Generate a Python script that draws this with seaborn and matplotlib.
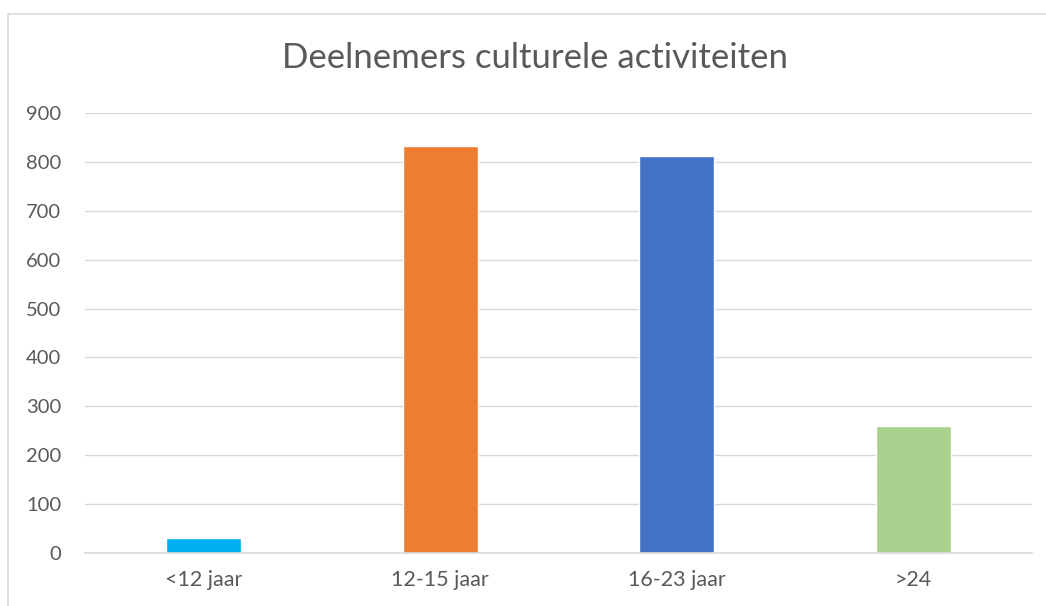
import matplotlib
matplotlib.use("Agg")
import matplotlib.pyplot as plt
import seaborn as sns
import pandas as pd
from matplotlib.patches import Rectangle

categories = ["<12 jaar", "12-15 jaar", "16-23 jaar", ">24"]
values = [31, 832, 812, 260]
colors = ["#00B0F0", "#ED7D31", "#4472C4", "#A9D18E"]
yticks = [0, 100, 200, 300, 400, 500, 600, 700, 800, 900]

sns.set_theme(style="white")
plt.rcParams["font.family"] = ["Lato", "DejaVu Sans"]

df = pd.DataFrame({"cat": categories, "val": values})

fig = plt.figure(figsize=(10.46, 6.06), dpi=100)
ax = fig.add_axes([85/1046, 1-553/606, (1032-85)/1046, (553-113)/606])

sns.barplot(data=df, x="cat", y="val", hue="cat", palette=colors, order=categories,
            hue_order=categories, width=0.316, legend=False, ax=ax, saturation=1)

ax.set_ylim(0, 900)
ax.set_yticks(yticks)
ax.set_xlim(-0.5, 3.5)
ax.yaxis.grid(True, color="#d9d9d9", linewidth=1.0)
ax.set_axisbelow(True)
for s in ["top", "right", "left"]:
    ax.spines[s].set_visible(False)
ax.spines["bottom"].set_color("#d9d9d9")
ax.spines["bottom"].set_linewidth(1.2)
ax.set_xlabel("")
ax.set_ylabel("")
ax.tick_params(axis="y", length=0, pad=17, labelsize=14.5, labelcolor="#595959")
ax.tick_params(axis="x", length=0, pad=12, labelsize=15.5, labelcolor="#595959")

fig.text(535/1046, 1-58/606, "Deelnemers culturele activiteiten", ha="center", va="center",
         fontsize=25, color="#595959")

fig.patches.append(Rectangle((8/1046, -0.1), 1.2, 1.1 - 14/606, transform=fig.transFigure,
                             fill=False, edgecolor="#d9d9d9", linewidth=1.2))

fig.savefig("out.png", dpi=100)
